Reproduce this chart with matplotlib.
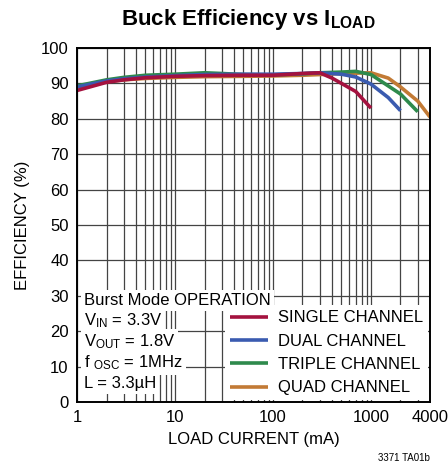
import matplotlib
matplotlib.use("Agg")
import matplotlib.pyplot as plt

plt.rcParams['font.family'] = ['Liberation Sans', 'DejaVu Sans']
plt.rcParams['mathtext.fontset'] = 'custom'
plt.rcParams['mathtext.rm'] = 'Liberation Sans'
plt.rcParams['mathtext.bf'] = 'Liberation Sans:bold'
plt.rcParams['mathtext.default'] = 'rm'

# efficiency curves
single_x = [1, 2, 3, 5, 10, 20, 50, 100, 200, 300, 400, 500, 700, 1000]
single_y = [88.0, 90.3, 91.0, 91.6, 92.0, 92.2, 92.3, 92.3, 92.8, 93.0, 91.5, 90.0, 87.7, 83.0]

dual_x = [1, 2, 3, 5, 10, 20, 50, 100, 200, 300, 500, 700, 1000, 1500, 2000]
dual_y = [89.0, 90.7, 91.3, 91.8, 92.2, 92.5, 92.6, 92.6, 92.8, 93.0, 92.6, 91.8, 89.8, 86.0, 82.3]

triple_x = [1, 2, 3, 5, 10, 20, 30, 50, 100, 200, 300, 500, 700, 1000, 2000, 3000]
triple_y = [89.3, 91.0, 91.7, 92.3, 92.6, 93.0, 92.8, 92.5, 92.4, 92.7, 93.0, 93.2, 93.4, 92.5, 87.0, 82.0]

quad_x = [1, 2, 3, 5, 10, 20, 50, 100, 200, 300, 500, 1000, 1500, 2000, 3000, 4000]
quad_y = [89.0, 90.5, 91.0, 91.4, 91.7, 91.9, 92.0, 92.1, 92.3, 92.5, 92.8, 93.0, 91.5, 89.0, 85.0, 80.5]

labels = ["SINGLE CHANNEL", "DUAL CHANNEL", "TRIPLE CHANNEL", "QUAD CHANNEL"]
colors = ["#a4123f", "#3a5bb0", "#2e8a4c", "#c27a35"]

x_ticks = [1, 10, 100, 1000, 4000]
y_ticks = list(range(0, 101, 10))

FS = 12

fig = plt.figure(figsize=(4.48, 4.69), dpi=100)
ax = fig.add_axes([77 / 448, 1 - 402 / 469, 353 / 448, 354 / 469])

ax.set_xscale("log")
ax.set_xlim(1, 4000)
ax.set_ylim(0, 100)
ax.set_xticks(x_ticks)
ax.set_xticklabels([str(t) for t in x_ticks])
ax.set_yticks(y_ticks)
ax.tick_params(axis="both", which="both", length=0, labelsize=FS, pad=6)
ax.grid(True, which="major", axis="y", color="#444444", lw=0.9)
ax.grid(True, which="both", axis="x", color="#444444", lw=0.9)
for s in ax.spines.values():
    s.set_linewidth(1.4)
    s.set_zorder(20)

series = [(single_x, single_y), (dual_x, dual_y), (triple_x, triple_y), (quad_x, quad_y)]
handles = []
for i, (xs, ys) in enumerate(series):
    ln, = ax.plot(xs, ys, color=colors[i], lw=2.6, solid_capstyle="butt", zorder=6 - i)
    handles.append(ln)

leg = ax.legend(handles, labels, loc="lower right", bbox_to_anchor=(1.0, 0.0),
                fontsize=FS, frameon=True, fancybox=False, framealpha=1,
                edgecolor="none", handlelength=2.3, handletextpad=0.6,
                labelspacing=0.5, borderpad=0.3, borderaxespad=0.1)
leg.set_zorder(10)

# operating conditions, each line on its own white patch
note = ["Burst Mode OPERATION", "V$_{IN}$ = 3.3V", "V$_{OUT}$ = 1.8V",
        "f $_{OSC}$ = 1MHz", "L = 3.3\u00b5H"]
for k, line in enumerate(note):
    ax.text(0.02, 0.288 - k * 0.059, line, transform=ax.transAxes, fontsize=FS,
            va="center", ha="left", zorder=11,
            bbox=dict(facecolor="white", edgecolor="none", pad=2.2))

ax.set_xlabel("LOAD CURRENT (mA)", fontsize=FS, labelpad=5)
ax.set_ylabel("EFFICIENCY (%)", fontsize=FS, labelpad=8)
fig.text(248 / 448, 1 - 19 / 469, "Buck Efficiency vs I$_{\\mathbf{LOAD}}$",
         fontsize=16, fontweight="bold", ha="center", va="center")
fig.text(0.96, 0.012, "3371 TA01b", fontsize=7, ha="right", va="bottom")

fig.savefig("out.png", dpi=100)
